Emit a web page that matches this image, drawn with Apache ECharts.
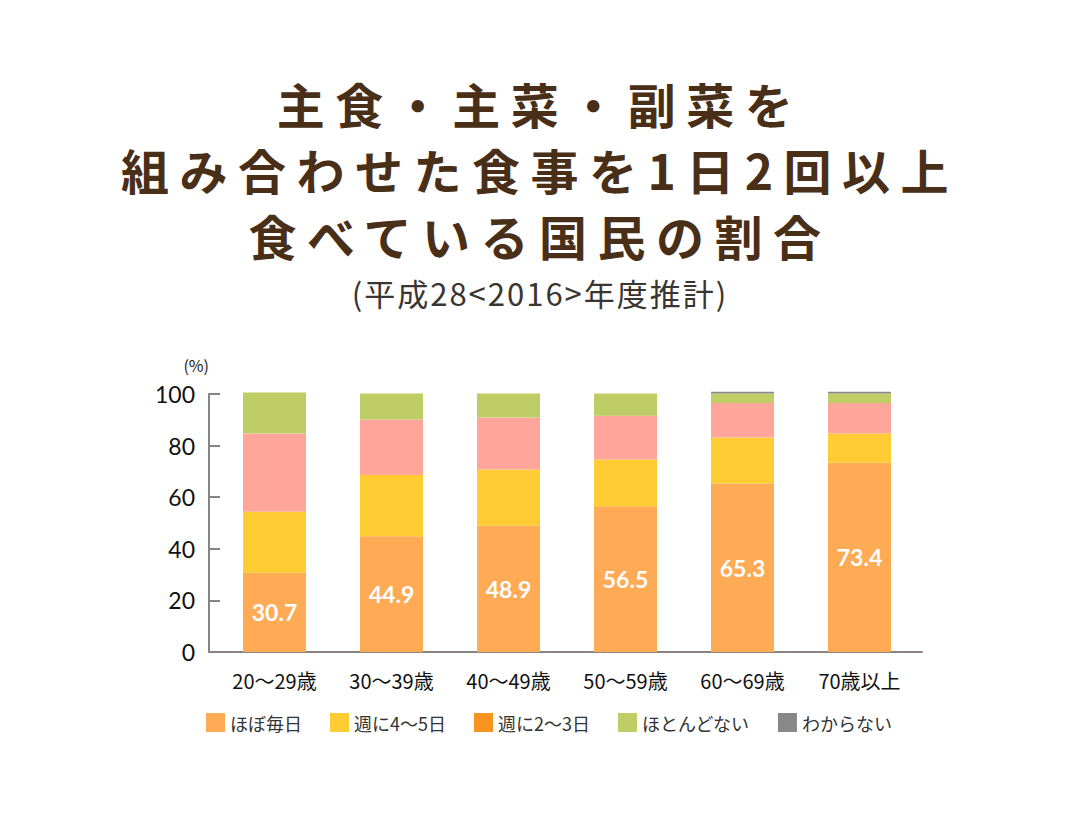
<!DOCTYPE html>
<html><head><meta charset="utf-8">
<script src="https://cdn.jsdelivr.net/npm/echarts@6/dist/echarts.min.js"></script>
<style>html,body{margin:0;padding:0;background:#fff}#chart{width:1080px;height:820px}</style>
</head><body><div id="chart"></div>
<script>
var titleLines = ['主食・主菜・副菜を', '組み合わせた食事を1日2回以上', '食べている国民の割合'];
var subTitle = '(平成28<2016>年度推計)';
var categories = ['20〜29歳', '30〜39歳', '40〜49歳', '50〜59歳', '60〜69歳', '70歳以上'];
var seriesNames = ['ほぼ毎日', '週に4〜5日', '週に2〜3日', 'ほとんどない', 'わからない'];
var everyDay = [30.7, 44.9, 48.9, 56.5, 65.3, 73.4];
var fourFive = [23.7, 23.7, 21.8, 18.1, 17.8, 11.3];
var twoThree = [30.3, 21.5, 20.2, 17.0, 13.4, 11.8];
var rarely = [15.9, 10.1, 9.3, 8.6, 3.7, 3.7];
var unknown = [0, 0, 0, 0, 0.7, 0.7];
var yTicks = [0, 20, 40, 60, 80, 100];

var colors = ['#FFAA55', '#FFCC33', '#FFA59A', '#BECD66', '#888888'];
var legendColors = ['#FFAA55', '#FFCC33', '#F8931F', '#BECD66', '#888888'];
var allData = [everyDay, fourFive, twoThree, rarely, unknown];

var chart = echarts.init(document.getElementById('chart'), null, {renderer: 'svg'});
var series = seriesNames.map(function (n, i) {
  var s = {
    name: n, type: 'bar', stack: 'total', data: allData[i],
    xAxisIndex: 0, yAxisIndex: 0, barWidth: 63, clip: false,
    itemStyle: {color: colors[i]}, emphasis: {disabled: true}
  };
  if (i === 0) {
    s.label = {show: true, position: 'inside', color: '#fff', fontFamily: 'Lato', fontWeight: 'bold', fontSize: 23,
      formatter: function (p) { return p.value.toFixed(1); }};
  }
  return s;
});
chart.setOption({
  animation: false,
  title: {
    text: titleLines.join('\n'), subtext: subTitle, left: 'center', top: 65, itemGap: 8,
    textStyle: {fontFamily: 'Noto Sans CJK JP', fontWeight: 'bold', fontSize: 48, lineHeight: 66, color: '#4A2F18'},
    subtextStyle: {fontFamily: 'Noto Sans CJK JP', fontSize: 31, lineHeight: 32, color: '#3A3530'}
  },
  legend: {
    left: 201, top: 708, itemWidth: 19, itemHeight: 19, itemGap: 28, icon: 'rect',
    textStyle: {fontFamily: 'Noto Sans CJK JP', fontSize: 18, color: '#333'},
    data: seriesNames.map(function (n, i) { return {name: n, itemStyle: {color: legendColors[i]}}; })
  },
  grid: [
    {left: 216, right: 162, top: 394, bottom: 168},
    {left: 209, right: 158, top: 394, bottom: 168}
  ],
  xAxis: [
    {type: 'category', gridIndex: 0, data: categories, axisLine: {show: false}, axisTick: {show: false},
      axisLabel: {fontFamily: 'Noto Sans CJK JP', fontSize: 20, color: '#111', margin: 18}},
    {type: 'category', gridIndex: 1, data: categories, axisLine: {show: true, lineStyle: {color: '#8A8480', width: 2}},
      axisTick: {show: false}, axisLabel: {show: false}}
  ],
  yAxis: [
    {type: 'value', gridIndex: 0, min: 0, max: 100, interval: 20, show: false},
    {type: 'value', gridIndex: 1, min: 0, max: 100, interval: 20, name: '(%)', nameLocation: 'end', nameGap: 21,
      nameTextStyle: {fontFamily: 'Noto Sans CJK JP', fontSize: 16, color: '#222', align: 'right', padding: [0, 0, 0, 0]},
      axisLine: {show: true, lineStyle: {color: '#8A8480', width: 2}},
      axisTick: {show: true, inside: true, length: 11, lineStyle: {color: '#8A8480', width: 2}},
      splitLine: {show: false},
      axisLabel: {fontFamily: 'Lato', fontSize: 23, color: '#111', margin: 14,
        formatter: function (v) { return yTicks.indexOf(v) >= 0 ? String(v) : ''; }}}
  ],
  series: series
});
function spaceTitle() {
  var texts = document.querySelectorAll('#chart text');
  texts.forEach(function (t) {
    var c = t.textContent;
    if (titleLines.indexOf(c) >= 0) t.style.letterSpacing = '10.5px';
    else if (c === subTitle) t.style.letterSpacing = '2px';
  });
}
chart.on('finished', spaceTitle);
spaceTitle();
</script></body></html>
